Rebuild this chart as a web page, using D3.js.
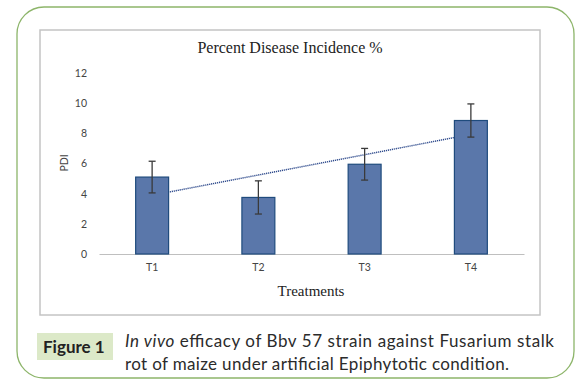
<!DOCTYPE html>
<html>
<head>
<meta charset="utf-8">
<script src="https://cdn.jsdelivr.net/npm/d3@7"></script>
<style>
  body { margin: 0; background: #fff; }
  svg { display: block; }
</style>
</head>
<body>
<svg id="chart" width="587" height="385"></svg>
<script>
// data
var treatments = ["T1", "T2", "T3", "T4"];
var pdi = [5.1, 3.75, 5.95, 8.85];
var pdiErr = [1.05, 1.1, 1.05, 1.1];
var yTicks = [0, 2, 4, 6, 8, 10, 12];

var svg = d3.select("#chart");

// outer green frame and inner chart box
svg.append("rect").attr("x", 17).attr("y", 7).attr("width", 557).attr("height", 371)
    .attr("rx", 27).attr("ry", 27)
    .attr("fill", "none").attr("stroke", "#8db56a").attr("stroke-width", 1.3);
svg.append("rect").attr("x", 40).attr("y", 30).attr("width", 500).attr("height", 285)
    .attr("fill", "#fff").attr("stroke", "#c4c4c4").attr("stroke-width", 1.5);

var x = d3.scaleBand().domain(treatments).range([99, 524]).paddingInner(0.69).paddingOuter(0.345);
var y = d3.scaleLinear().domain([0, 12]).range([254, 73]);

// title
svg.append("text").attr("x", 290).attr("y", 53).attr("text-anchor", "middle")
    .style("font-family", "Liberation Serif").style("font-size", "16px").attr("fill", "#222")
    .text("Percent Disease Incidence %");

// y axis labels only (no line, no grid)
var yAxis = d3.axisLeft(y).tickValues(yTicks).tickSize(0).tickPadding(0);
var gy = svg.append("g").attr("transform", "translate(87,0)").call(yAxis);
gy.select(".domain").remove();
gy.selectAll("text").style("font-family", "Lato").style("font-size", "10.5px").attr("fill", "#444");

// x axis
var xAxis = d3.axisBottom(x).tickSize(0).tickPadding(10);
var gx = svg.append("g").attr("transform", "translate(0," + y(0) + ")").call(xAxis);
gx.select(".domain").attr("stroke", "#bfbfbf").attr("stroke-width", 1.2);
gx.selectAll("text").style("font-family", "Lato").style("font-size", "10.5px").attr("fill", "#444");

// axis titles
svg.append("text").attr("transform", "translate(68,163) rotate(-90)").attr("text-anchor", "middle")
    .style("font-family", "Lato").style("font-size", "10.5px").attr("fill", "#444").text("PDI");
svg.append("text").attr("x", 311).attr("y", 296).attr("text-anchor", "middle")
    .style("font-family", "Liberation Serif").style("font-size", "15px").attr("fill", "#222")
    .text("Treatments");

// linear trendline (least squares over category index)
var n = pdi.length;
var mx = d3.mean(pdi, function(d, i) { return i + 1; });
var my = d3.mean(pdi);
var sxy = 0, sxx = 0;
pdi.forEach(function(d, i) { sxy += (i + 1 - mx) * (d - my); sxx += (i + 1 - mx) * (i + 1 - mx); });
var slope = sxy / sxx, icpt = my - slope * mx;
var c0 = x(treatments[0]) + x.bandwidth() / 2, c1 = x(treatments[n - 1]) + x.bandwidth() / 2;
svg.append("line")
    .attr("x1", c0).attr("y1", y(icpt + slope * 1))
    .attr("x2", c1).attr("y2", y(icpt + slope * n))
    .attr("stroke", "#2e4a8c").attr("stroke-width", 1.5).attr("stroke-dasharray", "1.2,0.8");

// bars
svg.selectAll(".bar").data(pdi).enter().append("rect").attr("class", "bar")
    .attr("x", function(d, i) { return x(treatments[i]); })
    .attr("y", function(d) { return y(d); })
    .attr("width", x.bandwidth())
    .attr("height", function(d) { return y(0) - y(d); })
    .attr("fill", "#5a77aa").attr("stroke", "#1f4b7d").attr("stroke-width", 1.2);

// error bars
var eb = svg.selectAll(".err").data(pdi).enter().append("g").attr("class", "err")
    .attr("stroke", "#3a3a3a").attr("stroke-width", 1.3);
eb.append("line")
    .attr("x1", function(d, i) { return x(treatments[i]) + x.bandwidth() / 2; })
    .attr("x2", function(d, i) { return x(treatments[i]) + x.bandwidth() / 2; })
    .attr("y1", function(d, i) { return y(d + pdiErr[i]); })
    .attr("y2", function(d, i) { return y(d - pdiErr[i]); });
[1, -1].forEach(function(s) {
    eb.append("line")
        .attr("x1", function(d, i) { return x(treatments[i]) + x.bandwidth() / 2 - 3.5; })
        .attr("x2", function(d, i) { return x(treatments[i]) + x.bandwidth() / 2 + 3.5; })
        .attr("y1", function(d, i) { return y(d + s * pdiErr[i]); })
        .attr("y2", function(d, i) { return y(d + s * pdiErr[i]); });
});

// figure caption
svg.append("rect").attr("x", 37).attr("y", 333).attr("width", 76).attr("height", 27).attr("fill", "#dce9c8");
svg.append("text").attr("x", 43).attr("y", 353)
    .style("font-family", "Lato").style("font-size", "17px").style("font-weight", "bold").attr("fill", "#222")
    .text("Figure 1");
var cap1 = svg.append("text").attr("x", 125).attr("y", 347).attr("textLength", 429).attr("lengthAdjust", "spacing")
    .style("font-family", "Lato").style("font-size", "17px").attr("fill", "#2b2b2b");
cap1.append("tspan").style("font-style", "italic").text("In vivo");
cap1.append("tspan").text(" efficacy of Bbv 57 strain against Fusarium stalk");
svg.append("text").attr("x", 125).attr("y", 370).attr("textLength", 384).attr("lengthAdjust", "spacing")
    .style("font-family", "Lato").style("font-size", "17px").attr("fill", "#2b2b2b")
    .text("rot of maize under artificial Epiphytotic condition.");
</script>
</body>
</html>
